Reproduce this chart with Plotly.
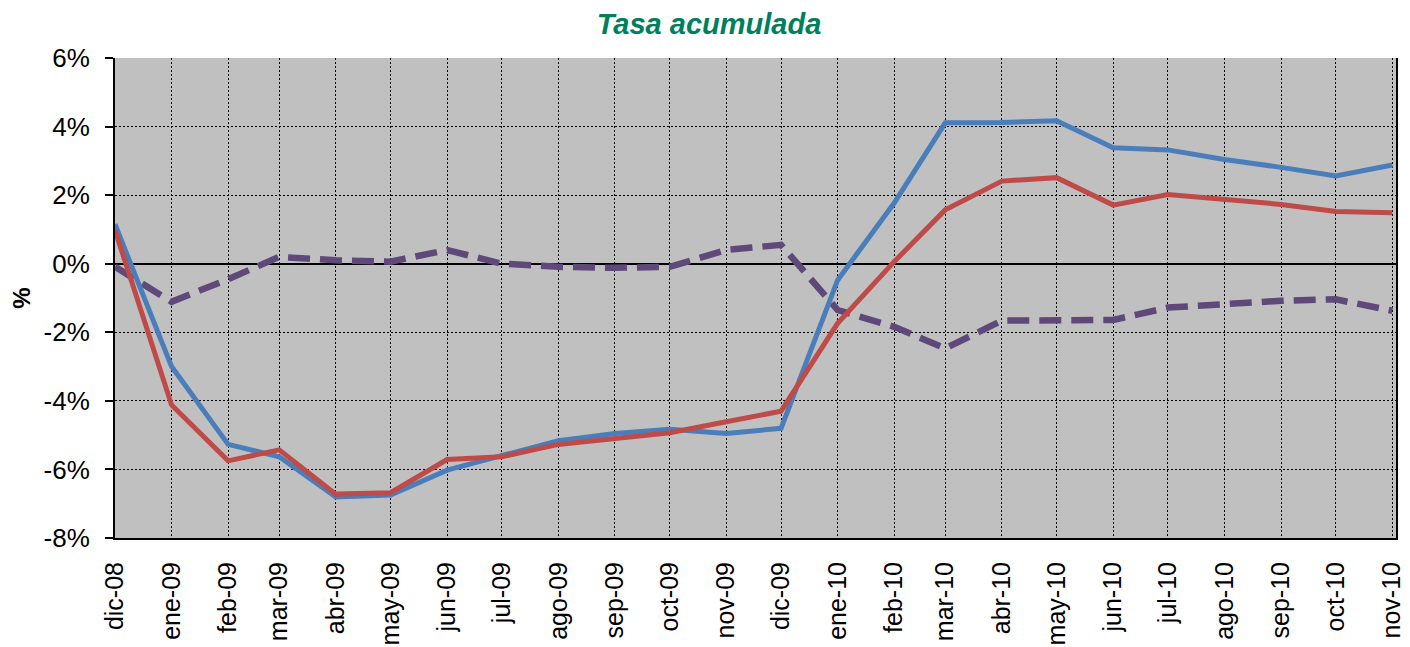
import plotly.graph_objects as go

dates = ["2008-12-01", "2009-01-01", "2009-02-01", "2009-03-01", "2009-04-01", "2009-05-01",
         "2009-06-01", "2009-07-01", "2009-08-01", "2009-09-01", "2009-10-01", "2009-11-01",
         "2009-12-01", "2010-01-01", "2010-02-01", "2010-03-01", "2010-04-01", "2010-05-01",
         "2010-06-01", "2010-07-01", "2010-08-01", "2010-09-01", "2010-10-01", "2010-11-01"]
labels = ["dic-08", "ene-09", "feb-09", "mar-09", "abr-09", "may-09", "jun-09", "jul-09",
          "ago-09", "sep-09", "oct-09", "nov-09", "dic-09", "ene-10", "feb-10", "mar-10",
          "abr-10", "may-10", "jun-10", "jul-10", "ago-10", "sep-10", "oct-10", "nov-10"]

serie_azul = [1.15, -3.0, -5.27, -5.63, -6.8, -6.75, -6.02, -5.58, -5.16, -4.95, -4.83, -4.95,
              -4.8, -0.48, 1.77, 4.11, 4.12, 4.17, 3.38, 3.32, 3.04, 2.81, 2.56, 2.88]
serie_roja = [0.98, -4.12, -5.75, -5.43, -6.72, -6.68, -5.71, -5.63, -5.27, -5.09, -4.93, -4.61,
              -4.3, -1.74, 0.06, 1.57, 2.41, 2.51, 1.71, 2.02, 1.89, 1.73, 1.52, 1.49]
serie_morada = [-0.09, -1.11, -0.45, 0.2, 0.1, 0.06, 0.4, 0.0, -0.09, -0.12, -0.09, 0.4,
                0.55, -1.35, -1.84, -2.47, -1.66, -1.64, -1.64, -1.28, -1.16, -1.08, -1.04, -1.37]

y_ticks = [-8, -6, -4, -2, 0, 2, 4, 6]
y_tick_labels = ["-8%", "-6%", "-4%", "-2%", "0%", "2%", "4%", "6%"]

FONT = "Arial, Liberation Sans, sans-serif"

fig = go.Figure()
fig.add_trace(go.Scatter(x=dates, y=serie_morada, mode="lines",
                         line=dict(color="#5F497A", width=6.5, dash="22px,10px"), showlegend=False))
fig.add_trace(go.Scatter(x=dates, y=serie_azul, mode="lines",
                         line=dict(color="#4A7EBB", width=5), showlegend=False))
fig.add_trace(go.Scatter(x=dates, y=serie_roja, mode="lines",
                         line=dict(color="#BE4B48", width=5), showlegend=False))

fig.update_layout(
    width=1402, height=639,
    margin=dict(l=107, r=14, t=50, b=109, autoexpand=False),
    paper_bgcolor="white", plot_bgcolor="#C0C0C0",
    font=dict(family=FONT, color="black", size=26),
    title=dict(text="<b><i>Tasa acumulada</i></b>", x=0.5, xanchor="center",
               yref="container", y=0.976, yanchor="middle",
               font=dict(size=29, color="#007F5F", family=FONT)),
)
fig.update_xaxes(
    type="date", range=["2008-12-01", "2010-11-03"], automargin=False,
    tickmode="array", tickvals=dates, ticktext=labels, tickangle=-90,
    showgrid=True, gridcolor="black", gridwidth=1.2, griddash="2px,2px",
    showline=True, linecolor="black", linewidth=2,
    ticks="", tickfont=dict(size=25, family=FONT), ticklabelstandoff=12,
)
fig.update_yaxes(
    range=[-8, 6], automargin=False, tickmode="array", tickvals=y_ticks, ticktext=y_tick_labels,
    showgrid=True, gridcolor="black", gridwidth=1.2, griddash="2px,2px",
    zeroline=True, zerolinecolor="black", zerolinewidth=2,
    showline=True, linecolor="black", linewidth=2, mirror=True,
    ticks="outside", ticklen=8, tickcolor="black", tickwidth=2,
    tickfont=dict(size=26, family=FONT), ticklabelstandoff=10,
    title=dict(text="<b>%</b>", font=dict(size=24, family=FONT), standoff=8),
)

fig.write_html("out.html")
